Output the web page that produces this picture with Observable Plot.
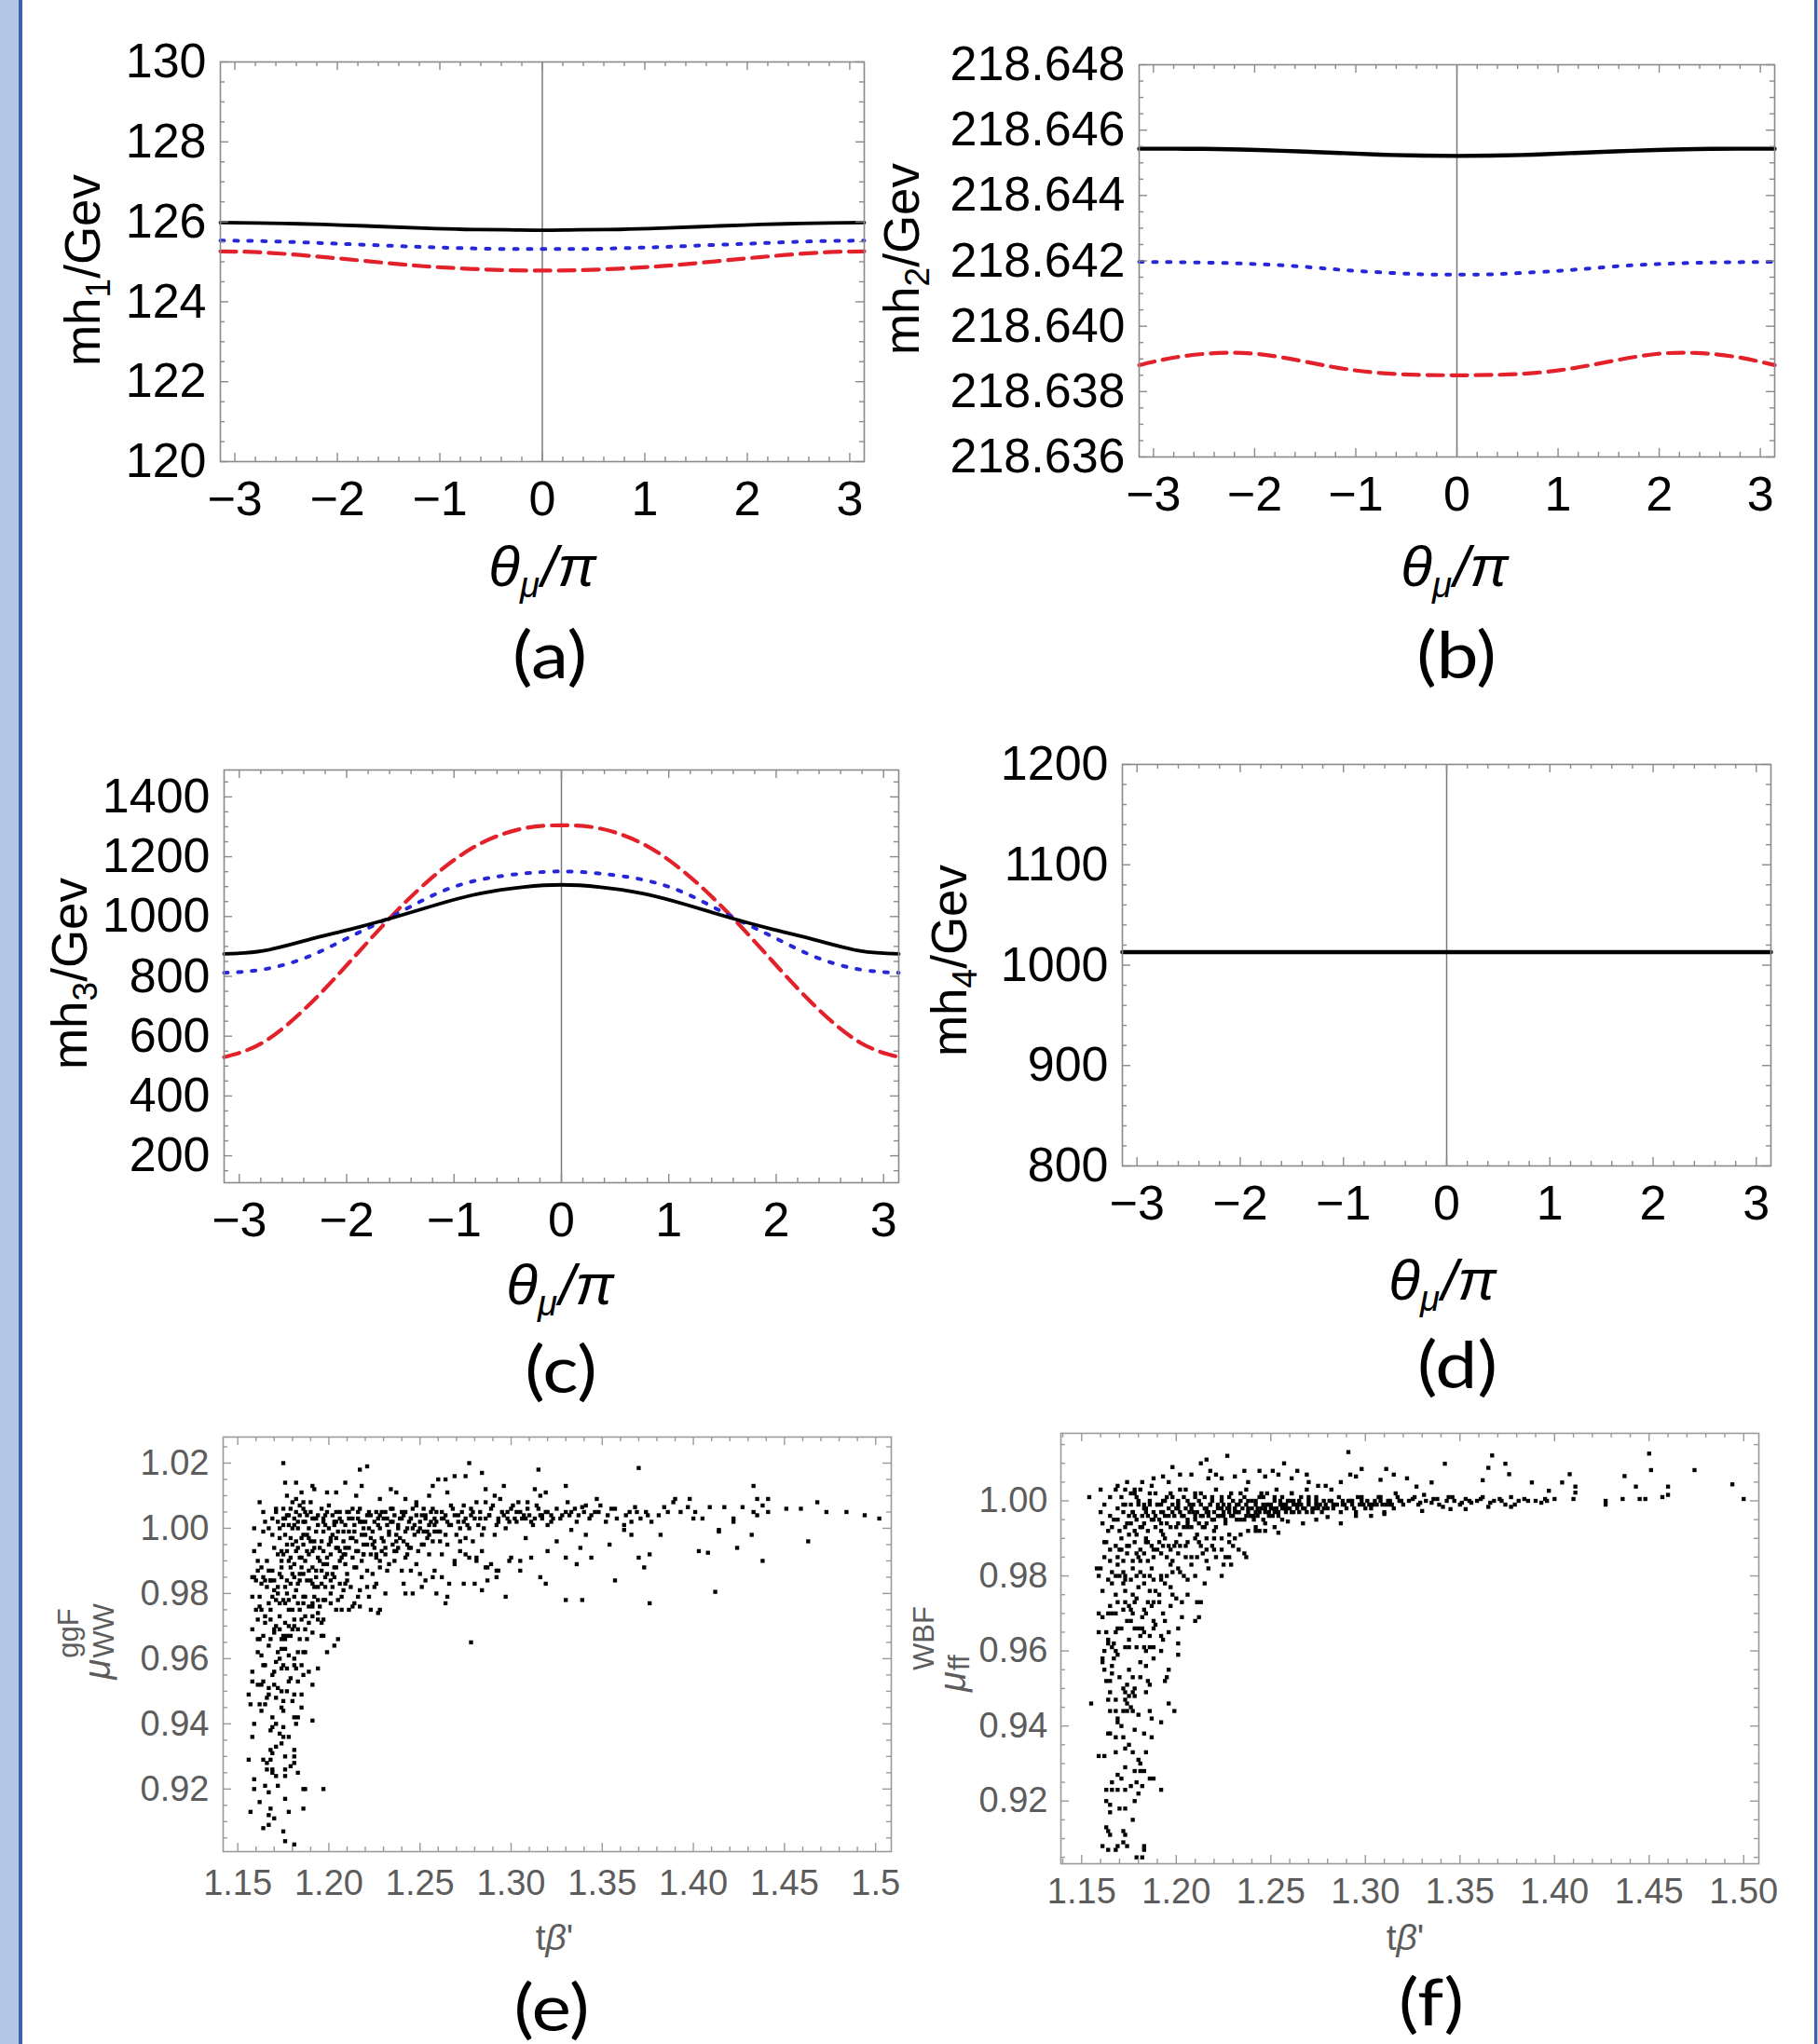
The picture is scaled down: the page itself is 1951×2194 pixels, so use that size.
<!DOCTYPE html>
<html><head><meta charset="utf-8">
<script src="https://cdn.jsdelivr.net/npm/d3@7"></script>
<script src="https://cdn.jsdelivr.net/npm/@observablehq/plot@0.6"></script>
<style>
html,body{margin:0;padding:0;background:#fff;}
#fig{position:relative;width:1951px;height:2194px;background:#fff;overflow:hidden;}
.panel{position:absolute;}
.panel svg{display:block;overflow:visible;}
.cap{position:absolute;font-family:Lato,"Open Sans",sans-serif;font-size:70px;line-height:50px;white-space:nowrap;transform:translateX(-50%) scaleX(1.15);color:#000;}
</style></head><body><div id="fig"></div>
<script>
// ---------- data: curves (x = θμ/π) ----------
const theta = [-3.1416,-2.78,-2.37,-1.97,-1.56,-1.16,-0.76,-0.35,0,0.35,0.76,1.16,1.56,1.97,2.37,2.78,3.1416];
const mh1Black = [125.98,125.97,125.95,125.92,125.88,125.84,125.81,125.80,125.79,125.80,125.81,125.84,125.88,125.92,125.95,125.97,125.98];
const mh1Blue  = [125.53,125.52,125.49,125.45,125.41,125.37,125.34,125.32,125.32,125.32,125.34,125.37,125.41,125.45,125.49,125.52,125.53];
const mh1Red   = [125.26,125.24,125.17,125.08,124.98,124.89,124.83,124.79,124.78,124.79,124.83,124.89,124.98,125.08,125.17,125.24,125.26];
const mh2Black = [218.64543,218.64543,218.64542,218.64539,218.64535,218.64530,218.64525,218.64522,218.64521,218.64522,218.64525,218.64530,218.64535,218.64539,218.64542,218.64543,218.64543];
const mh2Blue  = [218.64197,218.64196,218.64194,218.64190,218.64183,218.64173,218.64165,218.64159,218.64158,218.64159,218.64165,218.64173,218.64183,218.64190,218.64194,218.64196,218.64197];
const mh2Red   = [218.63881,218.63905,218.63918,218.63915,218.63895,218.63872,218.63857,218.63851,218.63850,218.63851,218.63857,218.63872,218.63895,218.63915,218.63918,218.63905,218.63881];
const mh3Black = [875,885,921,957,997,1040,1077,1099,1106,1099,1077,1040,997,957,921,885,875];
const mh3Blue  = [812,823,864,932,1004,1077,1123,1144,1151,1144,1123,1077,1004,932,864,823,812];
const mh3Red   = [530,579,698,849,1009,1144,1243,1295,1305,1295,1243,1144,1009,849,698,579,530];
const mh4Black = [1013,1013,1013,1013,1013,1013,1013,1013,1013,1013,1013,1013,1013,1013,1013,1013,1013];

// tick labels
const thetaTicks = [-3,-2,-1,0,1,2,3];
const mh1Ticks = [120,122,124,126,128,130];
const mh2Ticks = [218.636,218.638,218.640,218.642,218.644,218.646,218.648];
const mh3Ticks = [200,400,600,800,1000,1200,1400];
const mh4Ticks = [800,900,1000,1100,1200];
const tbTicks = [1.15,1.20,1.25,1.30,1.35,1.40,1.45,1.50];
const eYTicks = [0.92,0.94,0.96,0.98,1.00,1.02];
const fYTicks = [0.92,0.94,0.96,0.98,1.00];

// ---------- data: scatter (e) tβ' vs μ_WW^ggF ----------
const eDots = [
[1.156,.949],[1.157,.946],[1.158,.956],[1.158,.953],[1.159,.940],[1.158,.936],[1.156,.929],[1.159,.923],[1.159,.920],[1.157,.913],[1.164,.908],[1.167,.909],[1.168,.914],[1.167,.912],[1.165,.921],[1.167,.919],[1.169,.925],[1.169,.926],[1.168,.929],[1.168,.932],[1.169,.931],[1.164,.929],[1.166,.928],[1.171,.924],[1.176,.926],[1.176,.924],[1.176,.917],[1.175,.907],[1.176,.904],[1.181,.903],[1.186,.914],[1.186,.920],[1.187,.920],[1.197,.920],[1.183,.925],[1.181,.928],[1.181,.930],[1.181,.932],[1.176,.930],[1.174,.934],[1.173,.937],[1.175,.936],[1.171,.940],[1.169,.942],[1.169,.939],[1.175,.939],[1.181,.942],[1.183,.942],[1.191,.941],[1.185,.945],[1.185,.949],[1.181,.949],[1.175,.947],[1.175,.944],[1.167,.949],[1.166,.948],[1.162,.946],[1.165,.946],[1.171,.948],[1.174,.950],[1.177,.950],[1.178,.953],[1.179,.954],[1.186,.955],[1.191,.952],[1.189,.956],[1.194,.957],[1.161,.952],[1.163,.952],[1.164,.953],[1.167,.951],[1.170,.952],[1.169,.955],[1.174,.957],[1.175,.958],[1.181,.958],[1.182,.957],[1.181,.960],[1.183,.962],[1.186,.962],[1.187,.962],[1.173,.960],[1.171,.959],[1.172,.962],[1.174,.963],[1.176,.963],[1.178,.961],[1.163,.961],[1.164,.958],[1.158,.969],[1.161,.966],[1.162,.966],[1.164,.967],[1.168,.966],[1.174,.966],[1.176,.966],[1.179,.967],[1.184,.966],[1.187,.969],[1.191,.968],[1.196,.967],[1.197,.967],[1.199,.962],[1.203,.964],[1.205,.966],[1.278,.965],
[1.158,.979],[1.162,.976],[1.163,.975],[1.161,.972],[1.165,.973],[1.168,.972],[1.171,.970],[1.170,.968],[1.173,.969],[1.175,.967],[1.176,.971],[1.178,.970],[1.180,.969],[1.181,.972],[1.183,.969],[1.185,.972],[1.189,.971],[1.187,.973],[1.191,.973],[1.194,.974],[1.196,.971],[1.197,.972],[1.167,.977],[1.169,.979],[1.170,.981],[1.173,.977],[1.175,.978],[1.176,.977],[1.178,.975],[1.181,.979],[1.183,.977],[1.186,.979],[1.189,.976],[1.191,.976],[1.192,.979],[1.194,.978],[1.197,.978],[1.201,.977],[1.204,.975],[1.207,.975],[1.211,.975],[1.213,.976],[1.217,.976],[1.223,.975],[1.227,.974],[1.228,.975],[1.158,.985],[1.159,.985],[1.161,.987],[1.164,.985],[1.165,.984],[1.168,.984],[1.170,.984],[1.172,.982],[1.174,.985],[1.177,.984],[1.179,.983],[1.181,.985],[1.184,.984],[1.186,.986],[1.188,.984],[1.191,.983],[1.194,.982],[1.198,.982],[1.201,.984],[1.203,.985],[1.206,.983],[1.208,.981],[1.209,.983],[1.217,.981],[1.221,.982],[1.225,.982],[1.231,.980],[1.242,.980],[1.246,.980],[1.251,.982],[1.259,.980],[1.264,.977],[1.265,.979],
[1.162,1.008],[1.164,1.005],[1.165,1.002],[1.159,1.000],[1.167,1.000],[1.169,.998],[1.169,1.003],[1.171,1.006],[1.173,1.000],[1.175,1.006],[1.175,1.003],[1.177,1.004],[1.178,1.001],[1.179,.997],[1.181,1.003],[1.182,1.005],[1.183,1.000],[1.184,1.007],[1.186,1.002],[1.186,.998],[1.187,1.005],[1.189,1.000],[1.190,1.008],[1.191,1.003],[1.192,.996],[1.194,1.001],[1.196,1.006],[1.197,.999],[1.197,1.003],[1.199,1.005],[1.200,1.000],[1.201,.997],[1.203,1.002],[1.204,1.005],[1.205,.999],[1.206,1.003],[1.208,.996],[1.209,1.001],[1.211,1.005],[1.213,1.003],[1.214,.999],[1.216,1.005],[1.218,1.002],[1.219,1.000],[1.221,1.004],[1.223,.997],[1.225,1.002],[1.226,1.005],[1.228,1.000],[1.230,1.003],[1.231,1.005],[1.233,.999],[1.235,1.002],[1.236,1.004],[1.238,1.000],[1.240,1.003],[1.242,1.005],[1.243,1.000],[1.245,1.003],[1.247,1.001],[1.248,1.004],[1.250,1.002],[1.252,.999],[1.253,1.004],[1.255,1.001],[1.257,1.006],[1.258,1.003],
[1.170,.994],[1.172,.992],[1.174,.990],[1.175,.992],[1.177,.995],[1.179,.991],[1.181,.989],[1.182,.993],[1.184,.991],[1.186,.995],[1.187,.990],[1.189,.992],[1.191,.988],[1.192,.994],[1.194,.991],[1.196,.987],[1.197,.993],[1.199,.989],[1.201,.992],[1.203,.988],[1.204,.994],[1.206,.990],[1.208,.992],[1.209,.989],[1.211,.994],[1.213,.991],[1.214,.988],[1.216,.993],[1.218,.990],[1.219,.995],[1.221,.987],[1.223,.992],[1.225,.994],[1.226,.991],[1.228,.990],[1.231,.992],[1.235,.995],[1.237,.993],[1.240,.987],[1.242,.991],[1.245,.994],[1.248,.989],[1.252,.995],[1.255,.992],[1.258,.987],[1.262,.992],[1.265,.995],[1.269,.990],[1.272,.993],[1.275,.997],[1.277,.991],[1.281,.990],[1.284,.993],[1.287,.988],[1.289,.989],[1.292,.987],[1.299,.990],[1.305,.987],[1.311,.991],[1.316,.985],[1.319,.983],[1.320,.993],
[1.182,1.009],[1.185,1.011],[1.191,1.013],[1.192,1.012],[1.199,1.011],[1.204,1.011],[1.209,1.014],[1.215,1.010],[1.217,1.018],[1.221,1.019],[1.218,1.013],[1.228,1.009],[1.234,1.012],[1.237,1.011],[1.242,1.009],[1.248,1.008],[1.255,1.010],[1.257,1.013],[1.260,1.015],[1.264,1.015],[1.265,1.011],[1.269,1.016],[1.275,1.016],[1.277,1.020],[1.284,1.017],[1.286,1.012],[1.291,1.010],[1.296,1.013],[1.304,1.008],[1.309,1.008],[1.313,1.012],[1.315,1.018],[1.316,1.010],[1.319,1.011],[1.176,1.014],[1.182,1.014],[1.175,1.020],[1.177,1.010],[1.180,1.008],[1.186,1.008],
[1.262,1.005],[1.265,1.002],[1.269,1.004],[1.272,1.000],[1.275,1.003],[1.279,1.005],[1.282,1.001],[1.286,1.003],[1.289,1.006],[1.292,1.001],[1.296,1.004],[1.299,1.002],[1.303,1.005],[1.306,1.003],[1.309,1.006],[1.313,1.003],[1.316,1.004],[1.319,1.005],[1.322,1.002],[1.264,.998],[1.270,.998],[1.277,1.000],[1.284,.998],[1.291,.998],[1.297,1.000],[1.308,.997],[1.267,1.007],[1.274,1.007],[1.281,1.008],[1.286,1.008],[1.294,1.009],[1.301,1.007],[1.314,1.007],[1.320,1.001],[1.258,.999],[1.272,.996],[1.279,.996],
[1.266,.983],[1.274,.983],[1.280,.983],[1.284,.981],[1.287,.984],[1.292,.985],[1.297,.979],[1.305,.990],[1.300,.991],[1.293,.987],[1.286,.988],[1.281,.991],[1.275,.992],[1.269,.989],[1.262,.985],[1.257,.985],[1.253,.984],[1.250,.986],[1.245,.987],[1.241,.983],[1.236,.990],[1.232,.987],[1.228,.988],
[1.328,1.004],[1.333,1.005],[1.336,1.002],[1.339,1.0065],[1.343,1.003],[1.346,1.005],[1.349,1.007],[1.352,1.002],[1.355,1.006],[1.358,1.003],[1.362,1.001],[1.365,1.005],[1.368,1.0065],[1.371,1.003],[1.374,1.005],[1.377,1.002],[1.381,1.004],[1.384,1.0065],[1.389,1.008],[1.393,1.005],[1.397,1.0065],[1.400,1.003],[1.401,1.005],[1.405,1.003],[1.409,1.0065],[1.414,.9995],[1.417,1.0065],[1.422,1.003],[1.427,1.0065],[1.433,1.005],[1.435,1.004],[1.438,1.007],[1.441,1.005],[1.451,1.006],[1.459,1.006],[1.463,.996],[1.468,1.008],[1.473,1.005],[1.484,1.005],[1.494,1.004],[1.502,1.003],
[1.330,1.013],[1.331,1.008],[1.341,1.007],[1.347,1.009],[1.370,1.0185],[1.390,1.009],[1.398,1.009],[1.433,1.013],[1.435,1.009],[1.441,1.009],
[1.325,.996],[1.330,.991],[1.333,.9995],[1.336,.989],[1.338,.994],[1.341,.998],[1.344,.991],[1.354,.995],[1.357,.984],[1.362,.9995],[1.366,.998],[1.370,.991],[1.373,.988],[1.376,.992],[1.382,.998],[1.403,.993],[1.408,.9925],[1.412,.9805],[1.414,.999],[1.424,.994],[1.432,.998],[1.438,.990],[1.339,.978],[1.330,.978],[1.376,.977],[1.366,1.002],[1.422,1.002],
[1.172,1.002],[1.176,.998],[1.178,1.004],[1.180,.995],[1.183,1.002],[1.185,.997],[1.188,1.004],[1.190,.996],[1.193,1.003],[1.195,.994],[1.198,1.001],[1.200,.995],[1.202,1.004],[1.204,.997],[1.207,1.002],[1.209,.994],[1.211,.999],[1.213,1.006],[1.215,.996],[1.217,1.002],[1.220,.998],[1.222,1.005],[1.224,.995],[1.227,1.003],[1.229,.997],[1.232,1.001],[1.234,1.006],[1.237,.998],[1.239,1.003],[1.241,.996],[1.244,1.002],[1.246,1.006],[1.249,.999],[1.251,1.004],[1.254,.997],[1.256,1.002],[1.259,1.005],[1.261,.999],[1.263,1.003],[1.267,1.001],[1.271,1.004],[1.274,1.002],[1.278,1.004],[1.283,1.003],[1.288,1.004],[1.293,1.003],[1.298,1.005],[1.302,1.003],[1.307,1.004],[1.311,1.002],[1.317,1.004],[1.323,1.003],[1.174,.993],[1.179,.988],[1.184,.986],[1.188,.993],[1.193,.985],[1.197,.989],[1.202,.986],[1.206,.993],[1.210,.986],[1.215,.988],[1.219,.992],[1.224,.986],[1.229,.993],[1.233,.989],[1.238,.994],[1.243,.992],[1.166,.990],[1.168,.984],[1.171,.978],[1.173,.986],[1.177,.980],[1.180,.975],[1.183,.983],[1.186,.977],[1.189,.987],[1.192,.982],[1.195,.976],[1.198,.985],[1.201,.980],[1.205,.978],[1.212,.982],[1.216,.979],[1.162,.995],[1.164,.999],[1.167,.987],[1.163,.983],[1.160,.975],[1.161,.990],[1.159,.993]
];
const eDots2 = [
[1.171,1.005],[1.173,.997],[1.175,1.001],[1.177,.993],[1.179,1.006],[1.180,1.000],[1.182,.996],[1.184,1.004],[1.185,.991],[1.187,1.002],[1.188,.998],[1.190,1.005],[1.191,.993],[1.193,.999],[1.194,1.004],[1.196,.996],[1.197,1.002],[1.199,.991],[1.200,1.007],[1.202,.998],[1.203,1.001],[1.205,.994],[1.206,1.005],[1.208,.999],[1.209,.992],[1.211,1.003],[1.212,.997],[1.214,1.001],[1.215,.993],[1.217,1.006],[1.218,.998],[1.220,1.002],[1.221,.995],[1.223,1.004],[1.224,.999],[1.226,.992],[1.227,1.001],[1.229,1.005],[1.230,.996],[1.232,1.003],[1.233,.998],[1.235,1.006],[1.236,.993],[1.238,1.001],[1.239,.997],[1.241,1.004],[1.242,.999],[1.244,.994],[1.245,1.003],[1.247,.998],[1.248,1.007],[1.250,1.000],[1.251,.995],[1.253,1.003],[1.254,.999],[1.256,1.005],[1.257,.996],[1.259,1.002],[1.260,.999],[1.262,1.003],
[1.176,1.003],[1.178,.990],[1.181,1.001],[1.183,.994],[1.186,1.006],[1.189,.997],[1.192,1.003],[1.195,.990],[1.198,1.004],[1.201,.996],[1.204,1.002],[1.207,.991],[1.210,1.005],[1.213,.997],[1.216,1.003],[1.219,.992],[1.222,1.000],[1.225,.996],[1.228,1.004],[1.231,.994],[1.234,1.002],[1.237,.996],[1.240,1.005],[1.243,.995],[1.246,1.000],[1.249,.993],[1.252,1.006],[1.255,.998],[1.258,1.001],[1.261,.996],
[1.264,1.004],[1.266,1.001],[1.268,1.006],[1.271,1.002],[1.273,1.005],[1.276,1.001],[1.278,1.006],[1.280,1.003],[1.283,1.005],[1.285,1.000],[1.288,1.004],[1.290,1.007],[1.293,1.002],[1.295,1.005],[1.298,1.003],[1.300,1.006],[1.303,1.002],[1.305,1.005],[1.308,1.003],[1.310,1.004],[1.312,1.001],[1.315,1.006],[1.317,1.003],[1.320,1.005],[1.322,1.004],[1.325,1.006],[1.327,1.003],[1.330,1.005],[1.332,1.004],[1.335,1.006],[1.337,1.004],[1.340,1.005],[1.344,1.004],[1.348,1.005],[1.353,1.004],[1.357,1.006],[1.363,1.004],[1.369,1.005],[1.375,1.004],[1.386,1.005],
[1.160,.984],[1.162,.979],[1.163,.988],[1.165,.971],[1.166,.982],[1.168,.975],[1.169,.987],[1.170,.969],[1.172,.980],[1.173,.973],[1.174,.988],[1.176,.982],[1.177,.967],[1.178,.978],[1.180,.986],[1.181,.970],[1.182,.981],[1.184,.975],[1.185,.988],[1.187,.979],[1.188,.966],[1.190,.984],[1.191,.977],[1.193,.987],[1.194,.972],[1.196,.983],[1.198,.978],[1.199,.986],[1.202,.982],[1.204,.988],[1.207,.979],[1.210,.984],[1.214,.977],[1.218,.985],[1.222,.979],[1.226,.983],[1.161,.962],[1.165,.958],[1.167,.964],[1.170,.956],[1.172,.951],[1.174,.945],[1.177,.957],[1.180,.947],[1.183,.953],[1.185,.958],[1.163,.944],[1.168,.938],[1.171,.933],[1.178,.936],[1.182,.940],[1.166,.926],[1.172,.921],[1.179,.927],[1.162,.916],[1.170,.911],[1.178,.913]
];

// ---------- data: scatter (f) tβ' vs μ_ff^WBF ----------
const fDots = [
[1.155,.946],[1.159,.932],[1.162,.932],[1.161,.908],[1.164,.907],[1.168,.907],[1.169,.908],[1.164,.912],[1.165,.911],[1.172,.912],[1.173,.911],[1.174,.908],[1.179,.905],[1.183,.908],[1.182,.905],[1.183,.907],[1.163,.920],[1.165,.919],[1.165,.917],[1.173,.918],[1.178,.920],[1.177,.915],[1.163,.923],[1.166,.923],[1.169,.923],[1.173,.923],[1.180,.922],[1.182,.924],[1.179,.925],[1.178,.928],[1.181,.928],[1.183,.928],[1.171,.926],[1.169,.927],[1.173,.929],[1.173,.934],[1.177,.933],[1.180,.931],[1.181,.930],[1.184,.933],[1.186,.926],[1.188,.926],[1.192,.923],[1.165,.938],[1.168,.937],[1.172,.937],[1.169,.941],[1.169,.942],[1.168,.944],[1.165,.944],[1.174,.944],[1.177,.944],[1.178,.939],[1.183,.938],[1.187,.937],[1.186,.944],[1.187,.942],[1.192,.941],[1.164,.947],[1.168,.947],[1.173,.947],[1.175,.948],[1.177,.949],[1.173,.949],[1.172,.950],[1.178,.948],[1.184,.949],[1.185,.952],[1.176,.945],[1.174,.951],[1.177,.953],[1.184,.956],[1.181,.953],[1.174,.946],[1.165,.952],[1.163,.952],[1.166,.954],[1.166,.956],[1.196,.946],[1.199,.944],[1.194,.952],[1.195,.953],[1.196,.955],[1.192,.960],[1.188,.958],[1.186,.961],[1.184,.960],[1.188,.961],[1.183,.961],[1.179,.961],[1.175,.961],[1.173,.961],[1.169,.959],[1.168,.960],[1.166,.961],[1.164,.962],[1.161,.958],[1.161,.957],[1.162,.960],[1.159,.965],[1.161,.969],[1.159,.970],[1.164,.963],[1.168,.965],[1.169,.966],[1.174,.968],[1.176,.968],[1.178,.966],[1.180,.966],[1.182,.966],[1.183,.965],[1.186,.964],[1.188,.968],[1.189,.967],[1.192,.964],[1.193,.963],[1.196,.965],[1.201,.966],[1.201,.962],[1.201,.959],[1.203,.969],[1.210,.968],[1.212,.969],[1.164,.970],[1.166,.970],[1.168,.970],[1.172,.971],[1.173,.973],[1.175,.972],[1.177,.975],[1.178,.973],[1.182,.969],[1.185,.973],[1.187,.972],[1.188,.973],[1.191,.973],[1.193,.970],[1.197,.972],[1.200,.974],[1.203,.973],[1.206,.975],[1.211,.973],[1.213,.973],
[1.158,.982],[1.160,.982],[1.159,.980],[1.164,.979],[1.166,.978],[1.168,.980],[1.170,.980],[1.172,.981],[1.173,.979],[1.176,.979],[1.179,.980],[1.181,.981],[1.183,.980],[1.186,.980],[1.188,.979],[1.192,.980],[1.195,.980],[1.198,.981],[1.201,.982],[1.204,.980],[1.206,.979],[1.210,.980],[1.215,.978],[1.217,.982],[1.224,.980],[1.225,.983],[1.228,.985],[1.229,.983],[1.233,.987],[1.237,.985],[1.236,.986],[1.165,.984],[1.169,.985],[1.172,.984],[1.174,.986],[1.177,.984],[1.180,.985],[1.183,.986],[1.185,.984],[1.188,.985],[1.192,.986],[1.195,.985],[1.198,.984],[1.201,.986],[1.205,.985],[1.208,.985],[1.211,.985],[1.214,.986],[1.216,.987],[1.219,.988],[1.221,.985],[1.224,.987],[1.228,.989],[1.230,.988],[1.163,.989],[1.165,.987],[1.168,.988],[1.171,.987],[1.174,.988],[1.178,.989],[1.181,.987],[1.184,.989],[1.187,.988],[1.191,.989],[1.193,.988],[1.196,.988],[1.200,.989],[1.202,.988],[1.206,.989],[1.210,.990],[1.213,.988],[1.216,.990],[1.220,.990],[1.224,.990],[1.228,.991],[1.231,.990],[1.234,.991],[1.238,.992],[1.242,.993],[1.244,.992],[1.247,.994],[1.252,.993],[1.256,.995],
[1.154,1.001],[1.160,1.003],[1.162,.999],[1.161,.994],[1.162,.989],[1.165,1.001],[1.165,.996],[1.166,.993],[1.168,1.003],[1.169,.998],[1.169,.995],[1.170,.992],[1.171,1.001],[1.172,.997],[1.173,.993],[1.173,.999],[1.174,1.005],[1.175,.996],[1.176,.994],[1.177,.997],[1.178,.992],[1.178,1.002],[1.179,.995],[1.180,.999],[1.181,.993],[1.182,.996],[1.183,.999],[1.183,.994],[1.184,.997],[1.185,.992],[1.186,.999],[1.187,.995],[1.187,1.004],[1.188,.997],[1.189,.993],[1.190,.999],[1.191,.995],[1.192,.997],[1.192,.992],[1.193,1.000],[1.194,.996],[1.195,.994],[1.196,.998],[1.196,1.005],[1.197,.993],[1.198,1.001],[1.199,.996],[1.200,.998],[1.201,.994],[1.201,.999],[1.202,1.003],[1.203,.996],[1.204,.993],[1.205,.998],[1.206,.995],[1.206,1.000],[1.207,.997],[1.208,.993],[1.209,.999],[1.210,.995],[1.210,1.002],[1.211,.997],[1.212,.994],[1.213,.999],[1.214,.996],[1.215,.998],[1.215,1.001],[1.216,.994],[1.217,.997],[1.218,.999],[1.219,.995],[1.219,1.000],[1.220,.997],[1.221,.993],[1.222,.999],[1.223,.996],[1.224,.998],[1.224,1.000],[1.225,.996],[1.226,.995],[1.227,.998],[1.228,.997],[1.228,.999],[1.229,.996],[1.230,1.000],[1.231,.997],[1.232,.995],[1.233,.999],[1.233,.997],[1.234,1.002],[1.235,.998],[1.236,.995],[1.237,.999],[1.238,.997],[1.238,1.000],[1.239,.996],[1.240,.998],[1.241,.995],[1.242,.999],[1.242,.997],[1.243,.996],[1.244,1.001],[1.245,.998],[1.246,.999],[1.247,.997],[1.247,.998],[1.248,1.002],[1.249,.997],[1.250,.999],[1.251,.998],[1.251,.996],[1.252,1.000],[1.253,.998],[1.254,.997],[1.255,.999],[1.256,1.001],[1.256,.998],[1.257,.999],[1.258,.997],[1.259,1.000],[1.260,.998],[1.261,.997],[1.261,1.002],[1.262,.999],[1.264,.998],[1.265,1.000],[1.267,.998],[1.269,.997],[1.270,.999],[1.272,.998],[1.274,1.000],[1.275,.998],[1.277,.997],[1.279,.999],[1.280,.998],[1.282,1.000],[1.283,.998],[1.285,.999],[1.287,.997],[1.288,.999],[1.290,.998],[1.292,1.000],[1.293,.999],[1.295,.997],[1.297,.999],[1.298,1.001],[1.300,.998],[1.302,.999],[1.303,.998],[1.305,1.000],[1.306,.999],[1.308,1.001],[1.310,.997],[1.311,.999],[1.313,1.000],[1.315,.998],[1.316,1.002],
[1.169,1.004],[1.173,1.003],[1.178,1.003],[1.182,1.005],[1.188,1.006],[1.193,1.0065],[1.198,1.009],[1.202,1.007],[1.208,1.007],[1.213,1.010],[1.216,1.011],[1.218,1.008],[1.221,1.007],[1.227,1.012],[1.217,1.006],[1.224,1.006],[1.231,1.0065],[1.236,1.008],[1.238,1.005],[1.244,1.008],[1.247,1.0065],[1.251,1.008],[1.254,1.007],[1.257,1.010],[1.261,1.006],[1.264,1.008],[1.269,1.007],[1.270,1.005],[1.275,1.004],[1.279,1.004],[1.282,1.003],[1.287,1.005],[1.291,1.013],[1.292,1.007],[1.295,1.0065],[1.298,1.0085],[1.308,1.0056],[1.311,1.0085],[1.315,1.007],[1.287,.994],[1.310,.9965],[1.242,.992],[1.247,.992],[1.254,.9915],[1.259,.9945],[1.267,.994],[1.274,.995],[1.280,.9957],[1.295,.996],[1.303,.996],
[1.319,1.000],[1.325,1.0005],[1.328,.999],[1.331,1.0016],[1.335,.9995],[1.338,1.0005],[1.341,.9984],[1.344,1.001],[1.347,1.000],[1.350,.999],[1.353,1.0005],[1.356,.9995],[1.359,1.000],[1.362,1.001],[1.365,.9984],[1.368,1.000],[1.371,1.0005],[1.374,.999],[1.377,1.001],[1.381,1.000],[1.384,1.0005],[1.390,1.000],[1.393,.9995],[1.396,1.000],[1.400,1.0005],[1.410,1.0005],[1.427,1.000],[1.427,.999],[1.436,1.0005],[1.445,1.0005],[1.448,1.0005],[1.457,1.001],[1.460,1.0016],[1.500,1.0005],
[1.322,1.006],[1.335,1.0049],[1.342,1.0099],[1.362,1.0055],[1.365,1.0088],[1.374,1.0099],[1.376,1.0071],[1.388,1.0049],[1.397,1.0027],[1.408,1.0071],[1.411,1.0038],[1.437,1.0066],[1.443,1.0038],[1.450,1.0126],[1.451,1.0082],[1.460,1.0038],[1.474,1.0082],[1.494,1.0044],[1.367,1.0121],[1.327,1.0038],[1.404,1.0049],
[1.330,.9973],[1.345,.9978],[1.353,.9978],[1.377,.9984],[1.411,1.0022],
[1.176,.999],[1.179,1.001],[1.183,.998],[1.186,1.000],[1.189,.996],[1.192,.999],[1.195,1.001],[1.198,.997],[1.201,1.000],[1.204,.996],[1.207,.999],[1.210,1.001],[1.213,.996],[1.216,.998],[1.219,1.001],[1.222,.996],[1.225,.999],[1.228,1.001],[1.231,.998],[1.234,1.000],[1.237,.996],[1.240,1.000],[1.243,.998],[1.246,1.001],[1.249,.999],[1.252,.997],[1.255,1.000],[1.258,.999],[1.262,1.000],[1.266,.999],[1.270,1.001],[1.274,.999],[1.278,1.000],[1.283,.999],[1.288,1.000],[1.293,1.000],[1.298,1.000],[1.303,.999],[1.308,1.000],[1.313,.999],[1.318,1.000],[1.170,.987],[1.175,.991],[1.179,.986],[1.184,.990],[1.188,.987],[1.193,.991],[1.197,.987],[1.202,.991],[1.206,.993],[1.211,.991],[1.215,.993],[1.220,.992],[1.168,.975],[1.172,.978],[1.176,.971],[1.180,.977],[1.184,.970],[1.189,.976],[1.194,.978],[1.198,.975]
];
const fDots2 = [
[1.172,.999],[1.174,.994],[1.176,1.002],[1.178,.996],[1.180,1.000],[1.182,.993],[1.184,.998],[1.186,1.002],[1.188,.995],[1.190,.999],[1.192,.994],[1.194,1.000],[1.196,.996],[1.198,.999],[1.200,.993],[1.202,.997],[1.204,1.001],[1.206,.994],[1.208,.998],[1.210,.996],[1.212,1.000],[1.214,.993],[1.216,.997],[1.218,.999],[1.220,.995],[1.222,.998],[1.224,1.001],[1.226,.994],[1.228,.998],[1.230,.996],[1.232,.999],[1.234,.995],[1.236,1.001],[1.238,.998],[1.240,.996],[1.242,1.000],[1.244,.997],[1.246,.995],[1.248,.999],[1.250,.998],[1.252,1.001],[1.254,.996],[1.256,.999],[1.258,.998],[1.260,1.000],[1.262,.997],[1.264,.999],[1.266,1.001],[1.268,.998],[1.270,1.000],[1.272,.997],[1.274,1.001],[1.276,.999],[1.278,.998],[1.281,1.000],[1.284,.999],[1.286,1.001],[1.289,.999],[1.291,1.000],[1.294,.998],[1.296,1.001],[1.299,.999],[1.301,1.000],[1.304,.999],[1.307,1.001],[1.309,.999],[1.312,1.000],[1.314,.999],[1.317,1.001],[1.320,.999],[1.323,1.000],[1.326,1.001],[1.329,.9995],[1.332,1.000],[1.336,1.0005],[1.339,.999],[1.343,1.000],[1.346,1.001],[1.351,.9995],[1.355,1.000],[1.361,1.0005],[1.366,.9995],[1.372,1.000],[1.379,.999],[1.386,1.000],[1.395,1.0005],
[1.177,.997],[1.181,1.003],[1.185,.996],[1.189,1.002],[1.193,.997],[1.197,1.002],[1.201,.998],[1.205,1.003],[1.209,.997],[1.213,1.002],[1.217,.996],[1.221,1.003],[1.225,.997],[1.229,1.002],[1.233,.997],[1.237,1.003],[1.241,.996],[1.245,1.002],[1.249,.996],[1.253,1.003],[1.257,.998],[1.261,1.002],[1.265,.997],[1.269,1.003],[1.273,.998],
[1.160,.997],[1.162,.985],[1.164,.992],[1.166,.981],[1.167,.995],[1.169,.983],[1.171,.990],[1.173,.980],[1.175,.988],[1.177,.982],[1.179,.991],[1.181,.984],[1.183,.978],[1.185,.989],[1.187,.982],[1.190,.987],[1.192,.979],[1.194,.990],[1.197,.983],[1.199,.988],[1.202,.981],[1.205,.988],[1.208,.983],[1.212,.989],[1.216,.984],[1.220,.987],[1.226,.985],[1.161,.976],[1.163,.965],[1.165,.972],[1.167,.962],[1.169,.973],[1.171,.966],[1.173,.976],[1.175,.963],[1.177,.970],[1.179,.974],[1.181,.964],[1.183,.971],[1.186,.976],[1.188,.966],[1.191,.975],[1.194,.968],[1.197,.977],[1.162,.955],[1.165,.949],[1.167,.958],[1.170,.953],[1.172,.944],[1.175,.955],[1.178,.950],[1.181,.957],[1.186,.951],[1.164,.938],[1.168,.933],[1.171,.940],[1.175,.935],[1.180,.943],[1.166,.925],[1.170,.918],[1.176,.924],[1.163,.913],[1.172,.909]
];

// ---------- helpers ----------
const fig = document.getElementById("fig");
const SANS = "'Liberation Sans', Arial, sans-serif";

function minorTicks(lo, hi, step, majors) {
  return d3.range(Math.ceil(lo/step - 1e-9), Math.floor(hi/step + 1e-9) + 1)
    .map(k => +(k*step).toFixed(6))
    .filter(v => v >= lo && v <= hi && !majors.some(m => Math.abs(m - v) < step/10));
}

function panel(cfg) {
  const [L, T, W, H] = cfg.box;
  const [fx0, fx1, fy0, fy1] = cfg.frame;
  const fw = fx1 - fx0, fh = fy1 - fy0;
  const fc = cfg.frameColor, maj = 9, mnr = 5;
  const tk = {stroke: fc, strokeWidth: 1.4};
  const xMinor = minorTicks(cfg.xDomain[0], cfg.xDomain[1], cfg.xMinorStep, cfg.xTicks);
  const yMinor = minorTicks(cfg.yDomain[0], cfg.yDomain[1], cfg.yMinorStep, cfg.yTicks);
  const svg = Plot.plot({
    width: W, height: H,
    marginLeft: fx0 - L, marginRight: L + W - fx1,
    marginTop: fy0 - T, marginBottom: T + H - fy1,
    x: {domain: cfg.xDomain},
    y: {domain: cfg.yDomain},
    style: {fontFamily: SANS, background: "transparent", color: cfg.tickColor, overflow: "visible"},
    marks: [
      ...(cfg.zeroLine ? [Plot.ruleX([0], {stroke: "#7a7a7a", strokeWidth: 1.5})] : []),
      ...cfg.marks,
      Plot.ruleX(cfg.xTicks, {...tk, insetTop: fh - maj}),
      Plot.ruleX(cfg.xTicks, {...tk, insetBottom: fh - maj}),
      Plot.ruleX(xMinor, {...tk, insetTop: fh - mnr}),
      Plot.ruleX(xMinor, {...tk, insetBottom: fh - mnr}),
      Plot.ruleY(cfg.yTicks, {...tk, insetRight: fw - maj}),
      Plot.ruleY(cfg.yTicks, {...tk, insetLeft: fw - maj}),
      Plot.ruleY(yMinor, {...tk, insetRight: fw - mnr}),
      Plot.ruleY(yMinor, {...tk, insetLeft: fw - mnr}),
      Plot.frame({stroke: fc, strokeWidth: 1.6}),
      Plot.axisX(cfg.xTicks, {anchor: "bottom", tickSize: 0, tickPadding: cfg.xPad, tickFormat: cfg.xFmt, fontSize: cfg.tickFont, color: cfg.tickColor, label: null}),
      Plot.axisY(cfg.yTicks, {anchor: "left", tickSize: 0, tickPadding: cfg.yPad, tickFormat: cfg.yFmt, fontSize: cfg.tickFont, color: cfg.tickColor, label: null})
    ]
  });
  const div = document.createElement("div");
  div.className = "panel";
  div.style.left = L + "px"; div.style.top = T + "px";
  div.style.width = W + "px"; div.style.height = H + "px";
  div.appendChild(svg);
  fig.appendChild(div);
  return {svg: d3.select(svg), L, T};
}

function curveMarks(series, widths) {
  const rows = arr => theta.map((t, i) => ({t, v: arr[i]}));
  const out = [];
  if (series.red) out.push(Plot.line(rows(series.red), {x: "t", y: "v", stroke: "#e3212b", strokeWidth: widths.red, strokeDasharray: "17 9", curve: "natural"}));
  if (series.blue) out.push(Plot.line(rows(series.blue), {x: "t", y: "v", stroke: "#2727d8", strokeWidth: widths.blue, strokeDasharray: "4 11", curve: "natural"}));
  out.push(Plot.line(rows(series.black), {x: "t", y: "v", stroke: "#000", strokeWidth: widths.black, curve: "natural"}));
  return out;
}

function yLabelMh(p, n, bx, cy) {
  const size = 53;
  const g = p.svg.append("g").attr("transform", `translate(${bx - p.L},${cy - p.T}) rotate(-90)`);
  const t = g.append("text").attr("text-anchor", "middle").attr("font-size", size).attr("fill", "#000").attr("font-family", SANS);
  t.append("tspan").text("mh");
  t.append("tspan").attr("font-size", size * 0.7).attr("dy", size * 0.2).text(n);
  t.append("tspan").attr("dy", -size * 0.2).text("/Gev");
}
function xLabelTheta(p, cx, by) {
  const size = 62;
  const t = p.svg.append("text").attr("x", cx - p.L).attr("y", by - p.T).attr("text-anchor", "middle")
    .attr("font-size", size).attr("font-style", "italic").attr("fill", "#000").attr("font-family", SANS);
  t.append("tspan").text("θ");
  t.append("tspan").attr("font-size", size * 0.62).attr("dy", size * 0.2).text("μ");
  t.append("tspan").attr("dy", -size * 0.2).attr("dx", 2).text("/π");
}
function yLabelMu(p, sub, sup, bx, cy) {
  const size = 40, s2 = 31, col = "#5c5c5c";
  const g = p.svg.append("g").attr("transform", `translate(${bx - p.L},${cy - p.T}) rotate(-90)`)
    .attr("fill", col).attr("font-family", SANS);
  const t = g.append("text").attr("x", 0).attr("y", 0).attr("font-size", size).attr("text-anchor", "middle");
  t.append("tspan").attr("font-style", "italic").text("μ");
  const tSub = t.append("tspan").attr("font-size", s2).attr("dx", 1).attr("dy", 4).text(sub);
  const tSup = t.append("tspan").attr("font-size", s2).attr("dy", -38).text(sup);
  const wSub = tSub.node().getComputedTextLength();
  tSup.attr("dx", -wSub);
}
function xLabelTb(p, cx, by) {
  const t = p.svg.append("text").attr("x", cx - p.L).attr("y", by - p.T).attr("text-anchor", "middle")
    .attr("font-size", 39).attr("fill", "#5c5c5c").attr("font-family", SANS);
  t.append("tspan").text("t");
  t.append("tspan").attr("font-style", "italic").text("β");
  t.append("tspan").text("'");
}

const PI = 3.1416;
const fmtInt = d3.format("d");
const bigTicks = {tickFont: 52, tickColor: "#000", frameColor: "#8a8a8a", xPad: 21, yPad: 15, xMinorStep: 0.2, xTicks: thetaTicks, xFmt: d => d < 0 ? "\u2212" + Math.abs(d) : String(d), zeroLine: true, xDomain: [-PI, PI]};

// (a)
const pa = panel({...bigTicks, box: [24, 0, 951, 740], frame: [236, 927, 66, 495],
  yDomain: [120, 130], yTicks: mh1Ticks, yMinorStep: 0.5, yFmt: fmtInt,
  marks: curveMarks({black: mh1Black, blue: mh1Blue, red: mh1Red}, {black: 3.8, blue: 4, red: 4.2})});
yLabelMh(pa, "1", 107, 290);
xLabelTheta(pa, 582, 629);

// (b)
const pb = panel({...bigTicks, box: [935, 0, 1011, 740], frame: [1222, 1904, 69, 490],
  yDomain: [218.636, 218.648], yTicks: mh2Ticks, yMinorStep: 0.0005, yFmt: d3.format(".3f"),
  marks: curveMarks({black: mh2Black, blue: mh2Blue, red: mh2Red}, {black: 4.4, blue: 4, red: 4.2})});
yLabelMh(pb, "2", 986, 278);
xLabelTheta(pb, 1561, 629);

// (c)
const pc = panel({...bigTicks, box: [24, 740, 951, 747], frame: [240, 964, 826, 1269],
  yDomain: [110, 1490], yTicks: mh3Ticks, yMinorStep: 50, yFmt: fmtInt,
  marks: curveMarks({black: mh3Black, blue: mh3Blue, red: mh3Red}, {black: 3.8, blue: 4, red: 4.2})});
yLabelMh(pc, "3", 93, 1045);
xLabelTheta(pc, 601, 1400);

// (d)
const pd = panel({...bigTicks, box: [960, 740, 986, 747], frame: [1204, 1900, 820, 1251],
  yDomain: [800, 1200], yTicks: mh4Ticks, yMinorStep: 20, yFmt: fmtInt,
  marks: curveMarks({black: mh4Black}, {black: 4.6})});
yLabelMh(pd, "4", 1037, 1031);
xLabelTheta(pd, 1548, 1395);

// (e)
const smallTicks = {tickFont: 38, tickColor: "#5c5c5c", frameColor: "#9a9a9a", xMinorStep: 0.01, yMinorStep: 0.005, xTicks: tbTicks, zeroLine: false};
const dotOpts = {x: d => d[0], y: d => d[1], r: 2.45, symbol: "square", fill: "#000"};
const pe = panel({...smallTicks, box: [24, 1487, 951, 707], frame: [239, 956, 1542, 1987],
  xDomain: [1.142, 1.5086], yDomain: [0.9008, 1.028], yTicks: eYTicks, xPad: 20, yPad: 15,
  xFmt: d => d === 1.5 ? "1.5" : d.toFixed(2), yFmt: d => d.toFixed(2),
  marks: [Plot.dot(eDots, dotOpts), Plot.dot(eDots2, dotOpts)]});
yLabelMu(pe, "WW", "ggF", 118, 1762);
xLabelTb(pe, 595, 2093);

// (f)
const pf = panel({...smallTicks, box: [975, 1487, 971, 707], frame: [1138, 1887, 1538, 2000],
  xDomain: [1.139, 1.508], yDomain: [0.9033, 1.018], yTicks: fYTicks, xPad: 16, yPad: 14,
  xFmt: d => d.toFixed(2), yFmt: d => d.toFixed(2),
  marks: [Plot.dot(fDots, dotOpts), Plot.dot(fDots2, dotOpts)]});
yLabelMu(pf, "ff", "WBF", 1036, 1770);
xLabelTb(pf, 1508, 2093);

// ---------- captions ----------
function caption(text, cx, baseline) {
  const d = document.createElement("div");
  d.className = "cap";
  d.textContent = text;
  d.style.left = cx + "px";
  d.style.top = (baseline - 52) + "px";
  fig.appendChild(d);
}
caption("(a)", 590, 728);
caption("(b)", 1563, 728);
caption("(c)", 602, 1495);
caption("(d)", 1564, 1490);
caption("(e)", 592, 2180);
caption("(f)", 1536, 2174);

// ---------- page border ----------
function bar(left, width, color) {
  const d = document.createElement("div");
  Object.assign(d.style, {position: "absolute", left: left + "px", top: "0px", width: width + "px", height: "2194px", background: color});
  fig.appendChild(d);
}
bar(0, 20, "#b4c7e7");
bar(20, 4, "#3b62ad");
bar(1947, 3, "#3b62ad");
bar(1950, 1, "#b4c7e7");
</script>
</body></html>
